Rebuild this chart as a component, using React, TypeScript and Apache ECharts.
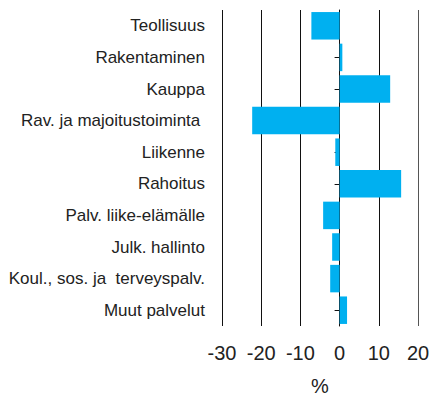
import React, { useEffect, useRef } from "react";
import * as echarts from "echarts";

const categories = [
  "Teollisuus",
  "Rakentaminen",
  "Kauppa",
  "Rav. ja majoitustoiminta ",
  "Liikenne",
  "Rahoitus",
  "Palv. liike-elämälle",
  "Julk. hallinto",
  "Koul., sos. ja  terveyspalv.",
  "Muut palvelut",
];
const values = [-7.2, 0.7, 12.9, -22.3, -1.1, 15.7, -4.2, -1.9, -2.4, 1.9];
const xMin = -30;
const xMax = 20;
const xInterval = 10;
const axisName = "%";

const FONT = "'Liberation Sans Narrow', 'Arial Narrow', 'Liberation Sans', Arial, sans-serif";

export default function App() {
  const ref = useRef<HTMLDivElement>(null);
  useEffect(() => {
    document.body.style.margin = "0";
    const chart = echarts.init(ref.current!, null, { renderer: "svg" });
    chart.setOption({
      animation: false,
      backgroundColor: "#ffffff",
      grid: { left: 222, right: 16, top: 10, bottom: 73, containLabel: false },
      xAxis: {
        type: "value",
        min: xMin,
        max: xMax,
        interval: xInterval,
        axisLine: { show: false },
        axisTick: { show: false },
        splitLine: {
          show: true,
          lineStyle: { color: ["#111", "#111", "#111", "#888", "#111", "#555"], width: 1 },
        },
        axisLabel: { fontFamily: FONT, fontSize: 20, color: "#222", margin: 17 },
        name: axisName,
        nameLocation: "middle",
        nameGap: 50,
        nameTextStyle: { fontFamily: FONT, fontSize: 20, color: "#222" },
      },
      yAxis: {
        type: "category",
        inverse: true,
        data: categories,
        axisLine: { show: true, lineStyle: { color: "#111", width: 1 } },
        axisTick: { show: true, alignWithLabel: true, length: 5, lineStyle: { color: "#111" } },
        axisLabel: { fontFamily: FONT, fontSize: 17, color: "#222", margin: 17 },
        splitLine: { show: false },
      },
      series: [
        {
          type: "bar",
          data: values,
          barCategoryGap: "13%",
          itemStyle: { color: "#00B0F0" },
        },
      ],
    });
    return () => chart.dispose();
  }, []);
  return <div ref={ref} style={{ width: 434, height: 401 }} />;
}
